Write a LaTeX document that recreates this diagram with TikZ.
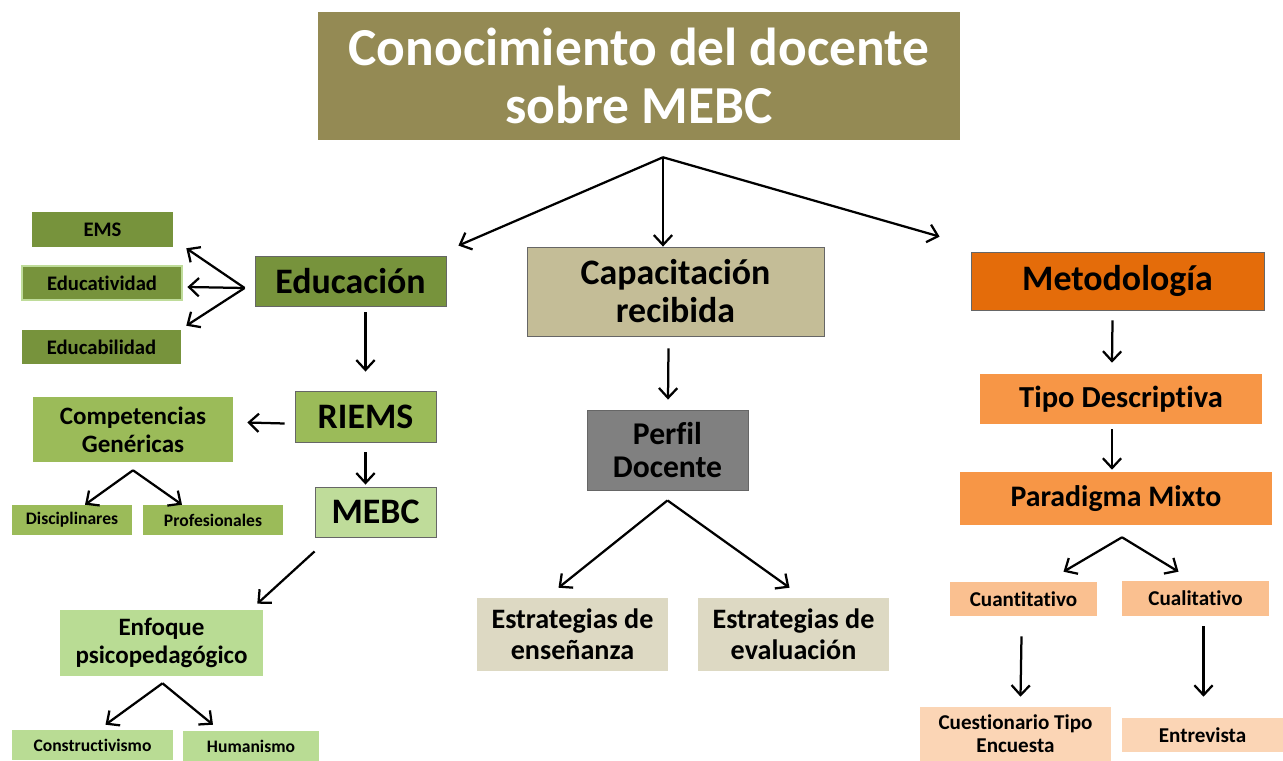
\documentclass[tikz,border=0pt]{standalone}
\usepackage{fontspec}
\setmainfont{Carlito}[Ligatures=NoCommon]
\usetikzlibrary{arrows.meta,calc}
\definecolor{olivo}{HTML}{948A54}
\definecolor{verdeA}{HTML}{77933C}
\definecolor{verdeB}{HTML}{9BBB59}
\definecolor{verdeC}{HTML}{BFDC9A}
\definecolor{verdeD}{HTML}{B9DC94}
\definecolor{arena}{HTML}{C4BD97}
\definecolor{arenaB}{HTML}{DDD9C3}
\definecolor{naranjaA}{HTML}{E46C0A}
\definecolor{naranjaB}{HTML}{F79646}
\definecolor{naranjaC}{HTML}{FAC090}
\definecolor{naranjaD}{HTML}{FBD5B5}

\begin{document}
\begin{tikzpicture}[x=0.025cm,y=-0.025cm,
  box/.style={rectangle,align=center,inner sep=0pt,text=black},
  wh/.style 2 args={minimum width=#1*0.025cm,minimum height=#2*0.025cm},
  rim/.style={draw=black!60,line width=0.6pt},
  fs/.style 2 args={font=\fontsize{#1}{#2}\selectfont\bfseries},
  arr/.style={-{Straight Barb[length=7pt,width=13pt]},line width=1.6pt}]
\useasboundingbox (0,0) rectangle (1283,761);

\node[box,fill=olivo,text=white,wh={642}{128},fs={38}{41}] (title) at (639,76) {Conocimiento del docente\\sobre MEBC};

\node[box,rim,fill=verdeA,wh={191}{50},fs={25.5}{28}] (edu) at (350.5,281) {Educación};
\node[box,fill=verdeA,wh={141}{35},fs={14.7}{16}] (ems) at (102.5,229.5) {EMS};
\node[box,fill=verdeA,draw=verdeC,line width=2pt,wh={160}{34},fs={14.7}{16}] (educat) at (102,283) {Educatividad};
\node[box,fill=verdeA,wh={159}{34},fs={14.7}{16}] (educab) at (101.5,347) {Educabilidad};
\node[box,rim,fill=verdeB,wh={141}{51},fs={25.5}{28}] (riems) at (365.5,416.5) {RIEMS};
\node[box,fill=verdeB,wh={200}{65},fs={17.8}{20}] (comp) at (133,429.5) {Competencias\\Genéricas};
\node[box,fill=verdeB,wh={120}{30},fs={12.5}{14}] (disc) at (72,520) {Disciplinares};
\node[box,fill=verdeB,wh={140}{30},fs={12.5}{14}] (prof) at (213,520) {Profesionales};
\node[box,rim,fill=verdeC,wh={121}{50},fs={25.5}{28}] (mebc) at (375.5,512) {MEBC};
\node[box,fill=verdeD,wh={203}{66},fs={17.8}{20}] (enf) at (161.5,643) {Enfoque\\psicopedagógico};
\node[box,fill=verdeD,wh={161}{30},fs={12.5}{14}] (cons) at (92.5,745) {Constructivismo};
\node[box,fill=verdeD,wh={136}{30},fs={12.5}{14}] (hum) at (251,746) {Humanismo};

\node[box,rim,fill=arena,wh={297}{89},fs={25.5}{27}] (cap) at (675.5,291.5) {Capacitación\\recibida};
\node[box,rim,fill=black!50,wh={161}{80},fs={22.5}{23.5}] (perf) at (667.5,450) {Perfil\\Docente};
\node[box,fill=arenaB,wh={191}{73},fs={20}{22}] (ens) at (572.5,634.5) {Estrategias de\\enseñanza};
\node[box,fill=arenaB,wh={191}{73},fs={20}{22}] (eval) at (793.5,634.5) {Estrategias de\\evaluación};

\node[box,rim,fill=naranjaA,wh={293}{58},fs={25.5}{28}] (metod) at (1117.5,281) {Metodología};
\node[box,fill=naranjaB,wh={282}{50},fs={21.7}{24}] (tipo) at (1121,399) {Tipo Descriptiva};
\node[box,fill=naranjaB,wh={312}{53},fs={21.2}{24}] (parad) at (1116,498.5) {Paradigma Mixto};
\node[box,fill=naranjaC,wh={147}{34},fs={15}{17}] (cuant) at (1023.5,599) {Cuantitativo};
\node[box,fill=naranjaC,wh={147}{35},fs={15}{17}] (cual) at (1195.5,598.5) {Cualitativo};
\node[box,fill=naranjaD,wh={191}{54},fs={15}{16.5}] (cuest) at (1015.5,734) {Cuestionario Tipo\\Encuesta};
\node[box,fill=naranjaD,wh={161}{34},fs={15}{17}] (entre) at (1202.5,735) {Entrevista};

\coordinate (hub) at ($(title.south)+(24,17)$);
\draw[arr] (hub) -- ($(edu.north east)+(12,-10)$);
\draw[arr] (hub) -- (hub |- cap.north);
\draw[arr] (hub) -- ($(metod.north west)+(-31,-15)$);

\coordinate (efan) at ($(edu.west)+(-10,7)$);
\draw[arr] (efan) -- ($(ems.south east)+(13,1)$);
\draw[arr] (efan) -- ($(educat.east)+(4,4)$);
\draw[arr] (efan) -- ($(educab.north east)+(5,-4)$);
\draw[arr] ($(edu.south)+(15,6)$) -- ($(riems.north)+(0,-19)$);
\draw[arr] ($(riems.west)+(-10,7)$) -- ($(comp.east)+(14,-7)$);
\draw[arr] ($(riems.south)+(0,10)$) -- ($(mebc.north)+(-10,-2)$);

\coordinate (cfan) at ($(comp.south)+(0,8)$);
\draw[arr] (cfan) -- ($(disc.north)+(13,0)$);
\draw[arr] (cfan) -- ($(prof.north)+(-31,0)$);
\draw[arr] ($(mebc.south west)+(0,14)$) -- ($(enf.north east)+(-6,-6)$);

\coordinate (nfan) at ($(enf.south)+(1,7)$);
\draw[arr] (nfan) -- ($(cons.north)+(13,-5)$);
\draw[arr] (nfan) -- ($(hum.north)+(-38,-6)$);

\draw[arr] ($(cap.south)+(-7,12)$) -- ($(perf.north)+(0.5,-10)$);
\coordinate (pfan) at ($(perf.south)+(0,10)$);
\draw[arr] (pfan) -- ($(ens.north)+(-14,-10)$);
\draw[arr] (pfan) -- ($(eval.north)+(-4,-10)$);

\draw[arr] ($(metod.south)+(-5,10)$) -- ($(tipo.north)+(-9,-11)$);
\draw[arr] ($(tipo.south)+(-9,5)$) -- ($(parad.north)+(-4,-2)$);
\coordinate (mfan) at ($(parad.south)+(6,12)$);
\draw[arr] (mfan) -- ($(cuant.north)+(40,-10)$);
\draw[arr] (mfan) -- ($(cual.north)+(-17,-9)$);
\draw[arr] ($(cuant.south)+(-2,20)$) -- ($(cuest.north)+(5,-10)$);
\draw[arr] ($(cual.south)+(8,10)$) -- ($(entre.north)+(1,-21)$);
\end{tikzpicture}
\end{document}
